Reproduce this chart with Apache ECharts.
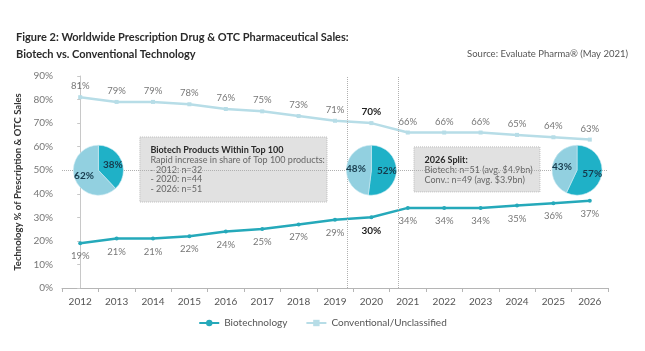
<!DOCTYPE html>
<html>
<head>
<meta charset="utf-8">
<script src="https://cdn.jsdelivr.net/npm/echarts@6/dist/echarts.min.js"></script>
<style>
  html, body { margin: 0; padding: 0; background: #fff; }
  #main { width: 645px; height: 351px; }
</style>
</head>
<body>
<div id="main"></div>
<script>
// 数据
var years = ['2012','2013','2014','2015','2016','2017','2018','2019','2020','2021','2022','2023','2024','2025','2026'];
var biotech = [19, 21, 21, 22, 24, 25, 27, 29, 30, 34, 34, 34, 35, 36, 37];
var conventional = [81, 79, 79, 78, 76, 75, 73, 71, 70, 66, 66, 66, 65, 64, 63];
var yTicks = [0, 10, 20, 30, 40, 50, 60, 70, 80, 90];
var pieNames = ['Biotechnology', 'Conventional/Unclassified'];
var pie2012 = [38, 62];
var pie2020 = [52, 48];
var pie2026 = [57, 43];
var highlightYear = '2020';

var darkTeal = '#25a9ba';
var lightBlue = '#b7dde7';
var pieDark = '#1fb1c7';
var pieLight = '#92d0e0';

var chart = echarts.init(document.getElementById('main'));
var fontFamily = 'Lato, "Open Sans", sans-serif';
var hi = years.indexOf(highlightYear);

function withLabels(values) {
    return values.map(function (v, i) {
        if (i === hi) {
            return { value: v, label: { color: '#222', fontWeight: 'bold', fontSize: 10 } };
        }
        return v;
    });
}

function pieSeries(values) {
    return {
        type: 'pie',
        radius: 25,
        center: [0, 0],
        z: 10,
        silent: true,
        startAngle: 90,
        label: {
            position: 'inside',
            formatter: '{c}%',
            color: '#163a4c',
            fontWeight: 'bold',
            fontSize: 10,
            fontFamily: fontFamily
        },
        labelLine: { show: false },
        itemStyle: { borderColor: '#c9eaf1', borderWidth: 0.6 },
        data: [
            { name: pieNames[0], value: values[0], itemStyle: { color: pieDark } },
            { name: pieNames[1], value: values[1], itemStyle: { color: pieLight } }
        ]
    };
}

var option = {
    animation: false,
    textStyle: { fontFamily: fontFamily },
    title: [{
        text: 'Figure 2: Worldwide Prescription Drug & OTC Pharmaceutical Sales:\nBiotech vs. Conventional Technology',
        left: 11,
        top: 24,
        textStyle: { fontSize: 11, fontWeight: 'bold', color: '#2a2a2a', lineHeight: 17, fontFamily: fontFamily }
    }, {
        text: 'Source: Evaluate Pharma\u00ae (May 2021)',
        right: 12,
        top: 44,
        textStyle: { fontSize: 9.5, fontWeight: 'normal', color: '#555', fontFamily: fontFamily }
    }],
    legend: {
        bottom: 18,
        left: 'center',
        itemWidth: 20,
        itemHeight: 8,
        itemGap: 18,
        data: pieNames,
        textStyle: { fontSize: 10, color: '#555' }
    },
    grid: { left: 62, right: 37, top: 76, bottom: 63 },
    xAxis: [{
        type: 'category',
        data: years,
        boundaryGap: true,
        axisLine: { lineStyle: { color: '#b5b5b5' } },
        axisTick: { show: true, alignWithLabel: false, length: 4, lineStyle: { color: '#b5b5b5' } },
        axisLabel: { color: '#555', fontSize: 10, margin: 9 }
    }, {
        type: 'value',
        min: -0.5,
        max: 14.5,
        show: false
    }],
    yAxis: {
        type: 'value',
        min: yTicks[0],
        max: yTicks[yTicks.length - 1],
        interval: 10,
        name: 'Technology % of Prescription & OTC Sales',
        nameLocation: 'middle',
        nameGap: 39,
        nameTextStyle: { fontSize: 9.5, fontWeight: 'bold', color: '#333' },
        axisLine: { show: true, lineStyle: { color: '#c8c8c8' } },
        axisTick: { show: true, length: 3, lineStyle: { color: '#c8c8c8' } },
        splitLine: { show: false },
        axisLabel: { formatter: '{value}%', color: '#777', fontSize: 10, margin: 9 }
    },
    series: [{
        name: pieNames[0],
        type: 'line',
        data: withLabels(biotech),
        z: 4,
        symbol: 'circle',
        symbolSize: 4,
        color: darkTeal,
        lineStyle: { width: 2.5, color: darkTeal },
        label: { show: true, position: 'bottom', distance: 6, formatter: '{c}%', color: '#777', fontSize: 9.5 }
    }, {
        name: pieNames[1],
        type: 'line',
        data: withLabels(conventional),
        z: 3,
        symbol: 'rect',
        symbolSize: 4,
        color: lightBlue,
        lineStyle: { width: 2.5, color: lightBlue },
        label: { show: true, position: 'top', distance: 4, formatter: '{c}%', color: '#777', fontSize: 9.5 }
    }, {
        // 参考虚线
        type: 'line',
        xAxisIndex: 1,
        data: [],
        z: 1,
        silent: true,
        markLine: {
            symbol: 'none',
            silent: true,
            label: { show: false },
            lineStyle: { color: '#b0b0b0', type: 'dotted', width: 1 },
            data: [{ yAxis: 50 }, { xAxis: 7.33 }, { xAxis: 8.73 }]
        }
    }, {
        // 注释框
        type: 'line',
        xAxisIndex: 1,
        data: [],
        z: 2,
        silent: true,
        markArea: {
            silent: true,
            itemStyle: { color: '#e1e1e1', borderColor: '#bdbdbd', borderWidth: 1, borderType: 'dotted' },
            label: {
                show: true,
                position: 'insideTopLeft',
                distance: 0,
                padding: [8, 0, 0, 11],
                color: '#666',
                fontSize: 9,
                lineHeight: 9.6,
                rich: {
                    b: { fontWeight: 'bold', color: '#2a2a2a', fontSize: 9, lineHeight: 11 }
                }
            },
            data: [
                [{
                    xAxis: 1.64, yAxis: 64.1,
                    name: '{b|Biotech Products Within Top 100}\nRapid increase in share of Top 100 products:\n- 2012: n=32\n- 2020: n=44\n- 2026: n=51'
                }, { xAxis: 6.78, yAxis: 36.5 }],
                [{
                    xAxis: 9.17, yAxis: 59.9,
                    name: '{b|2026 Split:}\nBiotech: n=51 (avg. $4.9bn)\nConv.: n=49 (avg. $3.9bn)'
                }, { xAxis: 12.63, yAxis: 40.8 }]
            ]
        }
    },
    pieSeries(pie2012),
    pieSeries(pie2020),
    pieSeries(pie2026)]
};

chart.setOption(option);

// 饼图位置按坐标轴换算
var pieAt = [[0.5, 50], [8, 50], [13.65, 50]];
var centers = pieAt.map(function (p) {
    return chart.convertToPixel({ xAxisIndex: 1, yAxisIndex: 0 }, p);
});
chart.setOption({
    series: [{}, {}, {}, {},
        { center: centers[0] },
        { center: centers[1] },
        { center: centers[2] }]
});
</script>
</body>
</html>
